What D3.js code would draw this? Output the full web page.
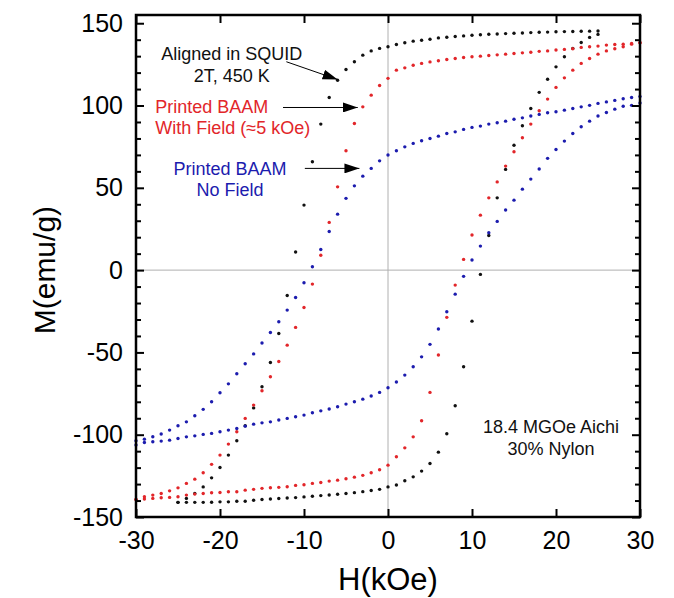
<!DOCTYPE html>
<meta charset="utf-8">
<body style="margin:0;background:#fff">

<script src="https://d3js.org/d3.v7.min.js"></script>

<script>
// field steps (kOe)
var fieldDown30 = [30,29,28,27,26,25,24,23,22,21,20,19,18,17,16,15,14,13,12,11,10,9,8,7,6,5,4,3,2,1,0,
                   -1,-2,-3,-4,-5,-6,-7,-8,-9,-10,-11,-12,-13,-14,-15,-16,-17,-18,-19,-20,-21,-22,-23,-24,-25,-26,-27,-28,-29,-30];
var fieldUp30 = [-30,-29,-28,-27,-26,-25,-24,-23,-22,-21,-20,-19,-18,-17,-16,-15,-14,-13,-12,-11,-10,-9,-8,-7,-6,-5,-4,-3,-2,-1,0,
                 1,2,3,4,5,6,7,8,9,10,11,12,13,14,15,16,17,18,19,20,21,22,23,24,25,26,27,28,29,30];
var fieldDown25 = [25,24,23,22,21,20,19,18,17,16,15,14,13,12,11,10,9,8,7,6,5,4,3,2,1,0,
                   -1,-2,-3,-4,-5,-6,-7,-8,-9,-10,-11,-12,-13,-14,-15,-16,-17,-18,-19,-20,-21,-22,-23,-24,-25];
var fieldUp25 = [-25,-24,-23,-22,-21,-20,-19,-18,-17,-16,-15,-14,-13,-12,-11,-10,-9,-8,-7,-6,-5,-4,-3,-2,-1,0,
                 1,2,3,4,5,6,7,8,9,10,11,12,13,14,15,16,17,18,19,20,21,22,23,24,25];

// Aligned in SQUID (black)
var squidDown = [145.3,145.2,145.1,145.0,144.9,144.8,144.6,144.5,144.3,144.1,143.9,143.7,143.5,143.3,143.0,142.7,142.3,141.9,141.5,141.1,140.3,139.7,139.1,138.1,137.1,135.7,
                 134.7,133.2,130.6,126.6,121.9,115.4,104.9,88.7,65.8,39.5,11,-15.4,-38.5,-56.1,-70.9,-83.7,-94.6,-103.7,-112.4,-119.9,-126.2,-131.7,-135.7,-138.7,-141.1];
var squidUp = [-141.1,-141.1,-141.1,-141.1,-141.0,-140.8,-140.8,-140.4,-140.4,-139.8,-139.4,-139.1,-138.8,-138.5,-138.2,-137.8,-137.4,-137.0,-136.6,-136.2,-135.7,-135.2,-134.6,-133.9,-133.2,-131.7,
               -130.6,-128,-125.6,-122.1,-117.5,-110.6,-99.4,-82.4,-58.7,-31,-2.6,21,43.9,61.2,75.9,87.7,98.2,108,116,123.5,129.6,134.7,138.3,141.4,143.2];

// Printed BAAM with field (red)
var fieldDown = [138.1,137.7,137.3,137.1,136.7,136.1,135.7,135.3,134.5,134.1,133.7,133.2,132.9,132.4,132,131.6,131.2,130.8,130.4,130,129.6,129.2,128.6,128,127.2,126.5,125.6,124.5,122.9,121.5,116.5,
                 112.2,106.3,99.2,89.1,72.5,50.6,29,9,-8.5,-22.7,-34.8,-45.6,-55.5,-64.8,-73.3,-82,-90.1,-98.2,-105.7,-112.4,-118,-123.1,-127,-129.6,-132.3,-134.1,-135.7,-136.7,-137.7,-139.3];
var fieldUp = [-139.3,-139.1,-138.7,-138.3,-138.1,-137.7,-136.7,-136.1,-135.7,-135.3,-135.1,-134.7,-134.7,-133.7,-133.2,-132.6,-132.2,-132,-131.6,-130.8,-130.4,-129.6,-129,-128.2,-127.6,-126.8,-125.8,-124.7,-123.1,-121.3,-118.5,
               -113.4,-108,-101.3,-91.5,-74.3,-51.6,-28.7,-9.1,6.5,21.3,33.4,43.9,53.6,63.2,71.9,80.4,88.7,96.8,103.9,111,116.8,121.5,125.6,128.6,131.2,133.2,134.5,135.7,137.3,138.1];

// Printed BAAM no field (blue)
var noFieldDown = [105.5,104.9,104.1,103.1,102.2,101.3,100.1,99.2,98.2,97.2,96.2,95.6,94.6,93.6,92.5,91.7,90.5,89.5,88.7,87.5,86.7,85.5,84,83,81.4,80,78.6,77,74.9,72.5,69.9,
                   66.4,61.8,57.1,51.2,43.6,34,23.5,12.5,2,-7.7,-16.6,-24.3,-31.4,-37.9,-44.3,-50.9,-56.9,-63,-69.1,-74.5,-80,-84.6,-88.5,-92.2,-94.6,-97.2,-99.6,-101.2,-102.7,-103.7];
var noFieldUp = [-106.3,-104.7,-104.3,-103.9,-103.3,-102.3,-101.3,-100.7,-99.8,-99.2,-98.2,-97.2,-96.2,-94.8,-93.6,-92.8,-92.2,-91.1,-90.1,-89.1,-88.1,-86.7,-85.5,-84.4,-83,-81.4,-80,-78.4,-76.5,-74.3,-71.5,
                 -68,-63.8,-58.7,-52.7,-45.1,-35.8,-25.3,-14.6,-3.8,6.1,14.6,22.7,29.6,36.5,42.5,49.2,55.3,61.4,67.9,73.3,78.4,83,87.1,90.5,93.6,95.8,97.8,99.6,100.1,101.5];

var xTicks = [-30,-20,-10,0,10,20,30];
var yTicks = [-150,-100,-50,0,50,100,150];
var yMinor = [-140,-130,-120,-110,-90,-80,-70,-60,-40,-30,-20,-10,10,20,30,40,60,70,80,90,110,120,130,140];

var loops = [
    {color: "#111111", branches: [[fieldDown25, squidDown], [fieldUp25, squidUp]]},
    {color: "#e2262a", branches: [[fieldDown30, fieldDown], [fieldUp30, fieldUp]]},
    {color: "#1c1cae", branches: [[fieldDown30, noFieldDown], [fieldUp30, noFieldUp]]}
];

var width = 674, height = 598;
var font = "'Liberation Sans', Arial, sans-serif";

var x = d3.scaleLinear().domain([-30, 30]).range([136, 640]);
var y = d3.scaleLinear().domain([-150, 155]).range([517, 15]);

var svg = d3.select("body").append("svg")
    .attr("width", width)
    .attr("height", height)
    .style("display", "block")
    .style("font-family", font);

// zero lines
svg.append("line")
    .attr("x1", x(-30)).attr("x2", x(30))
    .attr("y1", y(0)).attr("y2", y(0))
    .attr("stroke", "#b0b0b0").attr("stroke-width", 1);
svg.append("line")
    .attr("x1", x(0)).attr("x2", x(0))
    .attr("y1", y(155)).attr("y2", y(-150))
    .attr("stroke", "#b0b0b0").attr("stroke-width", 1);

// data points
loops.forEach(function(loop) {
    loop.branches.forEach(function(b) {
        var pts = b[0].map(function(h, i) { return [h, b[1][i]]; });
        svg.append("g").selectAll("circle")
            .data(pts)
            .enter().append("circle")
            .attr("cx", function(d) { return x(d[0]); })
            .attr("cy", function(d) { return y(d[1]); })
            .attr("r", 1.7)
            .attr("fill", loop.color);
    });
});

// axes, ticks pointing inward
function styleAxis(g) {
    g.select(".domain").remove();
    g.selectAll("line").attr("stroke", "#000").attr("stroke-width", 2);
    g.attr("font-size", 25).attr("font-family", font);
    g.selectAll("text").attr("fill", "#000");
}
var plain = function(d) { return String(d); }; // plain hyphen like the original

svg.append("g")
    .attr("transform", "translate(0," + y(-150) + ")")
    .call(d3.axisBottom(x).tickValues(xTicks).tickSizeInner(-8).tickSizeOuter(0).tickPadding(14).tickFormat(plain))
    .call(styleAxis);
svg.append("g")
    .attr("transform", "translate(0," + y(155) + ")")
    .call(d3.axisTop(x).tickValues(xTicks).tickSizeInner(-8).tickSizeOuter(0).tickFormat(""))
    .call(styleAxis);
svg.append("g")
    .attr("transform", "translate(" + x(-30) + ",0)")
    .call(d3.axisLeft(y).tickValues(yTicks).tickSizeInner(-8).tickSizeOuter(0).tickPadding(13).tickFormat(plain))
    .call(styleAxis);
svg.append("g")
    .attr("transform", "translate(" + x(-30) + ",0)")
    .call(d3.axisLeft(y).tickValues(yMinor).tickSizeInner(-5).tickSizeOuter(0).tickFormat(""))
    .call(styleAxis);
svg.append("g")
    .attr("transform", "translate(" + x(30) + ",0)")
    .call(d3.axisRight(y).tickValues(yTicks).tickSizeInner(-8).tickSizeOuter(0).tickFormat(""))
    .call(styleAxis);
svg.append("g")
    .attr("transform", "translate(" + x(30) + ",0)")
    .call(d3.axisRight(y).tickValues(yMinor).tickSizeInner(-5).tickSizeOuter(0).tickFormat(""))
    .call(styleAxis);

// frame
svg.append("rect")
    .attr("x", x(-30)).attr("y", y(155))
    .attr("width", x(30) - x(-30)).attr("height", y(-150) - y(155))
    .attr("fill", "none").attr("stroke", "#000").attr("stroke-width", 2.5);

// axis titles
svg.append("text")
    .attr("x", x(0)).attr("y", 590)
    .attr("text-anchor", "middle")
    .style("font-size", "31px")
    .text("H(kOe)");
svg.append("text")
    .attr("transform", "translate(55," + y(0) + ") rotate(-90)")
    .attr("text-anchor", "middle")
    .style("font-size", "30px")
    .text("M(emu/g)");

// annotations (positions in data units)
svg.append("defs").append("marker")
    .attr("id", "head")
    .attr("markerUnits", "userSpaceOnUse")
    .attr("markerWidth", 15).attr("markerHeight", 10)
    .attr("refX", 15).attr("refY", 5)
    .attr("orient", "auto")
    .append("path").attr("d", "M0,0L15,5L0,10Z").attr("fill", "#000");

var arrows = [
    [-12.1, 126.6, -6.0, 115.8],
    [-12.5, 98.8, -3.6, 98.8],
    [-9.9, 61.8, -3.4, 61.8]
];
svg.selectAll(".arrow")
    .data(arrows)
    .enter().append("line")
    .attr("class", "arrow")
    .attr("x1", function(d) { return x(d[0]); })
    .attr("y1", function(d) { return y(d[1]); })
    .attr("x2", function(d) { return x(d[2]); })
    .attr("y2", function(d) { return y(d[3]); })
    .attr("stroke", "#000").attr("stroke-width", 1)
    .attr("marker-end", "url(#head)");

var labels = [
    {text: "Aligned in SQUID", h: -18.6, m: 127.6, anchor: "middle", color: "#111111"},
    {text: "2T, 450 K", h: -18.6, m: 114.4, anchor: "middle", color: "#111111"},
    {text: "Printed BAAM", h: -27.7, m: 95.6, anchor: "start", color: "#e2262a"},
    {text: "With Field (\u22485 kOe)", h: -27.7, m: 83.0, anchor: "start", color: "#e2262a"},
    {text: "Printed BAAM", h: -18.8, m: 57.7, anchor: "middle", color: "#1c1cae"},
    {text: "No Field", h: -18.8, m: 45, anchor: "middle", color: "#1c1cae"},
    {text: "18.4 MGOe Aichi", h: 19.4, m: -98.8, anchor: "middle", color: "#111111"},
    {text: "30% Nylon", h: 19.4, m: -112.4, anchor: "middle", color: "#111111"}
];
svg.selectAll(".note")
    .data(labels)
    .enter().append("text")
    .attr("class", "note")
    .attr("x", function(d) { return x(d.h); })
    .attr("y", function(d) { return y(d.m); })
    .attr("text-anchor", function(d) { return d.anchor; })
    .attr("fill", function(d) { return d.color; })
    .style("font-size", "18px")
    .text(function(d) { return d.text; });

</script>
</body>
</html>
